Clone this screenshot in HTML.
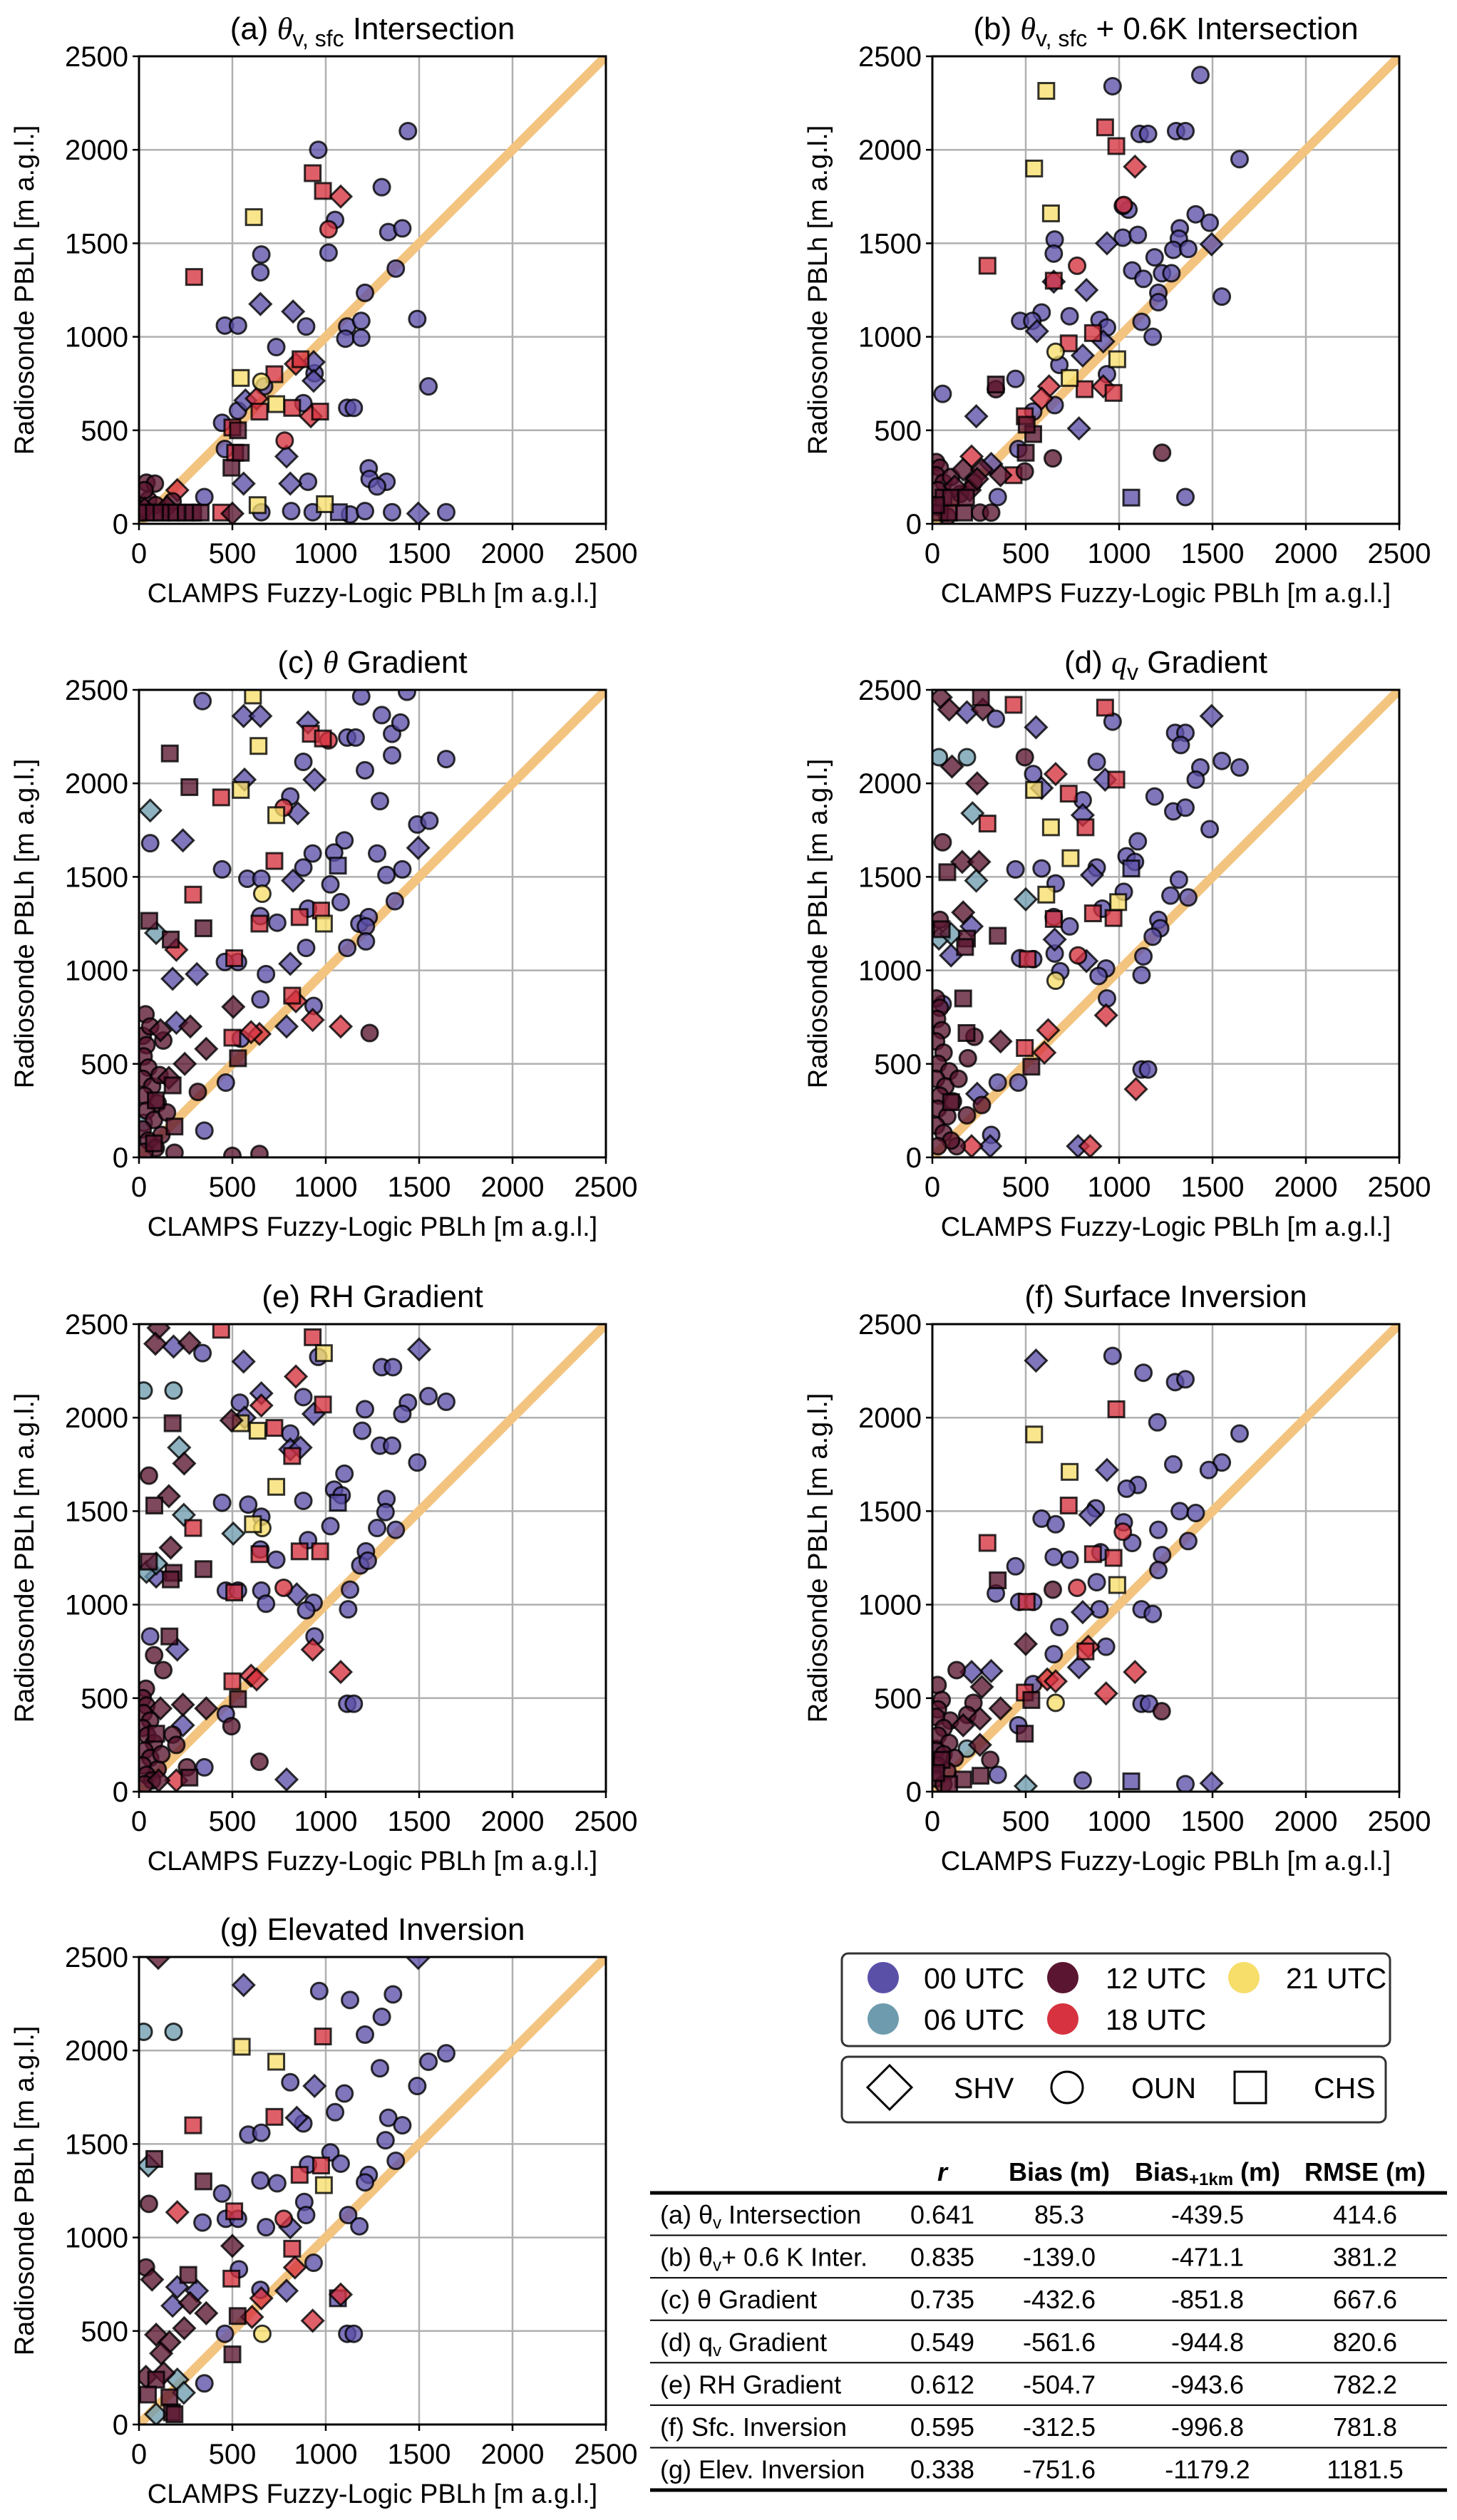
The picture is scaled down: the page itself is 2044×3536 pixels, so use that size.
<!DOCTYPE html>
<html><head><meta charset="utf-8">
<style>
html,body{margin:0;padding:0;background:#fff;}
svg{display:block;font-family:"Liberation Sans","DejaVu Sans",sans-serif;}
.tick{font-size:40px;fill:#000;}
.ttl{font-size:44px;fill:#000;}
.alab{font-size:38px;fill:#000;}
.tb{font-family:"Liberation Sans Narrow","Liberation Sans",sans-serif;font-size:36px;fill:#000;}
.lg{font-family:"Liberation Sans Narrow","Liberation Sans",sans-serif;font-size:41px;fill:#000;}
</style></head>
<body>
<svg id="fig" width="2044" height="3536" viewBox="0 0 2044 3536" xmlns="http://www.w3.org/2000/svg">
<g id="panels"></g>
<g>
<rect x="1181" y="2741" width="769" height="130" rx="9" fill="#fff" stroke="#333" stroke-width="3"/>
<circle cx="1239" cy="2775" r="22" fill="#5b50a8"/><text class="lg" x="1296" y="2790">00 UTC</text>
<circle cx="1491" cy="2775" r="22" fill="#5a1530"/><text class="lg" x="1551" y="2790">12 UTC</text>
<circle cx="1745" cy="2775" r="22" fill="#f7de6a"/><text class="lg" x="1804" y="2790">21 UTC</text>
<circle cx="1239" cy="2833" r="22" fill="#6e9cae"/><text class="lg" x="1296" y="2848">06 UTC</text>
<circle cx="1491" cy="2833" r="22" fill="#d6323f"/><text class="lg" x="1551" y="2848">18 UTC</text>
</g>
<g>
<rect x="1181" y="2886" width="763" height="92" rx="9" fill="#fff" stroke="#333" stroke-width="3"/>
<polygon points="1248,2898 1279,2929 1248,2960 1217,2929" fill="none" stroke="#000" stroke-width="3"/>
<text class="lg" x="1338" y="2944">SHV</text>
<circle cx="1497" cy="2929" r="22" fill="none" stroke="#000" stroke-width="3"/>
<text class="lg" x="1587" y="2944">OUN</text>
<rect x="1732" y="2907" width="44" height="44" fill="none" stroke="#000" stroke-width="3"/>
<text class="lg" x="1843" y="2944">CHS</text>
</g>
<g class="tb">
<text x="1322" y="3060" text-anchor="middle" font-weight="bold" font-style="italic">r</text>
<text x="1486" y="3060" text-anchor="middle" font-weight="bold">Bias (m)</text>
<text x="1694" y="3060" text-anchor="middle" font-weight="bold">Bias<tspan font-size="24" dy="6">+1km</tspan><tspan dy="-6"> (m)</tspan></text>
<text x="1915" y="3060" text-anchor="middle" font-weight="bold">RMSE (m)</text>
<line x1="912" y1="3077" x2="2030" y2="3077" stroke="#000" stroke-width="5"/>
<line x1="912" y1="3494" x2="2030" y2="3494" stroke="#000" stroke-width="5"/>
<g id="tblrows"></g>
</g>
</svg>
<script>
const timeLabels=['00 UTC','06 UTC','12 UTC','18 UTC','21 UTC'];
const timeColors=['#5b50a8','#6e9cae','#5a1530','#d6323f','#f7de6a'];
const axisTicks=[0,500,1000,1500,2000,2500];

const a_0o=[[1440,2100],[960,2000],[1300,1800],[1050,1625],[1335,1560],[1410,1580],[655,1440],[1015,1450],[650,1345],[1375,1365],[1210,1235],[460,1060],[530,1060],[895,1055],[1115,1055],[1190,1085],[1490,1095],[1105,990],[1190,995],[735,945],[670,735],[1550,735],[880,645],[530,605],[1115,620],[1150,620],[445,540],[460,400],[1230,297],[1235,240],[1325,225],[905,225],[1275,200],[815,68],[930,62],[655,62],[1130,50],[1210,68],[1355,62],[1645,62],[350,143],[940,805]];
const a_0d=[[650,1175],[825,1135],[570,660],[935,865],[935,765],[790,360],[560,215],[810,215],[1495,55]];
const a_0s=[[1070,62]];
const a_3s=[[930,1875],[985,1780],[295,1320],[725,800],[865,880],[820,620],[970,600],[645,600],[500,515],[515,380],[440,60]];
const a_3d=[[1080,1750],[840,855],[920,575],[205,180],[630,670]];
const a_3o=[[1015,1575],[780,445]];
const a_4s=[[615,1640],[545,780],[735,640],[635,100],[995,105]];
const a_4o=[[655,760]];
const a_2s=[[530,500],[495,300],[545,380],[40,60],[80,60],[120,60],[170,60],[200,60],[250,60],[290,60],[330,60]];
const a_2o=[[40,220],[85,215],[180,120],[50,128],[30,180],[90,100],[20,60]];
const a_2d=[[500,55],[30,80],[150,90]];

const b_0o=[[1435,2400],[965,2340],[1110,2085],[1155,2085],[1305,2100],[1355,2100],[1645,1950],[1050,1680],[1020,1700],[1410,1655],[1485,1610],[1325,1580],[1320,1525],[1020,1530],[1100,1545],[655,1520],[650,1445],[1290,1465],[1370,1470],[1190,1425],[1070,1355],[1130,1310],[1230,1340],[1280,1340],[1210,1235],[1210,1185],[1550,1215],[585,1130],[470,1085],[535,1085],[735,1110],[895,1090],[935,1050],[1120,1080],[1180,1000],[680,850],[445,775],[55,695],[935,800],[655,635],[540,600],[460,400],[1355,143],[350,143]];
const b_0d=[[935,1500],[1495,1495],[825,1250],[650,1295],[560,1030],[805,900],[915,975],[235,575],[785,510],[315,320]];
const b_0s=[[1065,140]];
const b_3s=[[925,2120],[985,2020],[295,1380],[650,1300],[860,1020],[730,965],[815,720],[970,700],[495,575],[435,260]];
const b_3d=[[1085,1910],[625,735],[585,670],[210,360],[915,735]];
const b_3o=[[775,1380],[1025,1705]];
const b_4s=[[610,2315],[545,1900],[635,1660],[990,880],[735,780]];
const b_4o=[[660,920]];
const b_2s=[[340,745],[540,480],[500,380],[505,530],[40,60],[90,60],[170,60],[60,140],[100,140],[180,140],[20,100]];
const b_2o=[[645,350],[1230,380],[340,720],[495,280],[255,60],[315,60],[20,330],[40,300],[20,260],[60,220],[30,180],[100,250],[220,220],[150,160],[30,90],[80,40]];
const b_2d=[[365,260],[165,290],[265,290],[200,180],[120,200],[240,240]];

const c_0o=[[340,2440],[1190,2465],[1435,2490],[1300,2365],[1355,2265],[1400,2325],[1115,2245],[1160,2245],[1355,2150],[1645,2130],[880,2115],[1210,2070],[810,1930],[1290,1905],[1490,1780],[1555,1800],[1100,1695],[60,1680],[1045,1630],[930,1625],[1275,1625],[880,1550],[1325,1510],[445,1540],[1410,1540],[580,1490],[655,1490],[1025,1460],[1370,1370],[1080,1365],[905,1330],[650,1290],[740,1255],[1180,1250],[1230,1285],[1215,1235],[1215,1155],[895,1120],[1115,1120],[530,1045],[460,1045],[680,980],[650,845],[935,810],[465,400],[350,143],[545,635]];
const c_0d=[[560,2360],[650,2360],[905,2325],[940,2020],[565,2020],[850,1840],[235,1695],[825,1480],[180,955],[310,980],[810,1035],[790,700],[1495,1655],[200,720]];
const c_0s=[[1065,1560]];
const c_1d=[[60,1855],[92,1200]];
const c_1o=[[25,185]];
const c_3s=[[440,1925],[920,2265],[985,2240],[725,1585],[290,1405],[860,1285],[975,1320],[645,1250],[510,1065],[820,865],[500,640]];
const c_3d=[[200,1110],[840,835],[930,735],[1080,700],[645,660],[600,670]];
const c_3o=[[775,1870],[1015,2230]];
const c_4s=[[610,2470],[640,2200],[545,1965],[735,1830],[990,1250]];
const c_4o=[[660,1410]];
const c_2s=[[165,2160],[270,1980],[55,1265],[345,1225],[170,1165],[530,530],[180,385],[90,305],[190,165],[80,75]];
const c_2d=[[505,805],[275,700],[115,680],[360,580],[245,500],[160,425]];
const c_2o=[[35,765],[1235,665],[645,18],[500,8],[190,25],[315,350],[130,625],[20,650],[40,600],[25,540],[50,480],[20,420],[70,380],[30,330],[100,290],[40,250],[80,200],[20,150],[120,120],[50,90],[90,50],[30,30],[150,240],[60,700],[110,440]];

const d_0o=[[340,2345],[965,2330],[1300,2270],[1355,2270],[1330,2205],[880,2115],[1435,2085],[1410,2020],[1550,2120],[1645,2085],[1190,1930],[805,1910],[1290,1850],[1355,1870],[1485,1755],[1100,1690],[1040,1610],[1085,1580],[445,1540],[585,1545],[880,1550],[660,1465],[1320,1485],[1275,1400],[1370,1390],[1025,1420],[910,1330],[650,1285],[735,1235],[1210,1270],[1220,1225],[1180,1180],[1130,1075],[1120,975],[655,1090],[685,995],[930,1010],[890,970],[935,850],[470,1065],[540,1060],[1120,470],[1155,470],[460,400],[350,400],[315,120],[540,2050],[55,820]];
const d_0d=[[1495,2360],[555,2300],[185,2380],[925,2020],[585,1975],[805,1830],[855,1510],[655,1165],[825,1050],[100,1080],[210,1235],[240,340],[310,60],[780,60]];
const d_0s=[[1065,1545]];
const d_1o=[[35,2140],[185,2140]];
const d_1d=[[215,1840],[235,1480],[500,1380],[35,1170],[100,1195]];
const d_3s=[[435,2420],[925,2405],[295,1785],[730,1945],[985,2020],[820,1765],[650,1275],[860,1305],[970,1280],[495,585],[510,1060]];
const d_3d=[[660,2050],[620,680],[600,560],[1090,365],[930,760],[210,60],[845,60]];
const d_3o=[[780,1080]];
const d_4s=[[545,1965],[635,1765],[740,1600],[610,1405],[995,1365]];
const d_4o=[[660,945]];
const d_2d=[[45,2460],[90,2395],[270,2395],[105,2090],[240,2000],[160,1580],[250,1580],[165,1310],[365,620]];
const d_2s=[[260,2460],[80,1525],[50,1220],[185,1170],[175,1125],[350,1185],[165,850],[183,665],[530,485],[100,295]];
const d_2o=[[495,2140],[55,1685],[40,1270],[190,530],[225,645],[185,225],[265,280],[130,60],[20,850],[40,800],[25,740],[50,680],[20,620],[60,560],[30,500],[90,460],[20,420],[70,380],[40,330],[110,300],[30,260],[80,220],[20,170],[60,130],[100,90],[30,60],[140,420]];

const e_0o=[[340,2345],[960,2325],[1300,2270],[1360,2270],[880,2110],[540,2080],[1440,2080],[1410,2020],[1210,2045],[1550,2115],[1645,2085],[1195,1930],[810,1915],[1290,1850],[1355,1850],[1490,1760],[1100,1700],[1045,1615],[1085,1585],[445,1545],[585,1535],[880,1555],[655,1470],[1325,1565],[1320,1495],[1275,1410],[1375,1400],[1025,1420],[905,1345],[650,1295],[735,1240],[1215,1285],[1185,1210],[1225,1235],[1130,1080],[1120,975],[655,1075],[680,1005],[935,1010],[895,970],[940,830],[465,1075],[530,1075],[1115,470],[1150,470],[465,415],[60,830],[350,130]];
const e_0d=[[1500,2365],[560,2300],[185,2380],[655,2130],[935,2020],[565,2000],[810,1830],[865,1840],[845,1055],[92,1150],[205,760],[235,355],[790,65]];
const e_0s=[[1065,1545]];
const e_1o=[[25,2145],[185,2145]];
const e_1d=[[215,1840],[240,1480],[505,1380],[40,1175],[92,1220]];
const e_3s=[[440,2470],[930,2430],[290,1410],[725,1945],[985,2070],[820,1795],[645,1270],[860,1285],[970,1285],[500,590],[510,1065]];
const e_3d=[[840,2220],[655,2065],[600,620],[630,600],[1080,640],[930,760],[200,60]];
const e_3o=[[775,1090]];
const e_4s=[[545,1970],[635,1930],[735,1630],[610,1430],[990,2345]];
const e_4o=[[660,1410]];
const e_2d=[[105,2480],[88,2395],[270,2400],[160,1580],[242,1755],[495,1985],[170,1305],[235,465],[360,445],[115,445],[105,60]];
const e_2s=[[180,1970],[82,1530],[53,1230],[185,1170],[170,1135],[345,1190],[163,830],[530,495],[92,310],[270,75]];
const e_2o=[[53,1690],[81,730],[130,650],[37,550],[180,305],[495,350],[645,160],[257,130],[20,500],[40,460],[25,420],[60,380],[20,340],[45,300],[80,260],[30,220],[60,180],[20,140],[100,120],[40,90],[70,60],[30,40],[120,200],[200,250]];

const f_0o=[[965,2330],[1130,2240],[1300,2190],[1355,2205],[1205,1975],[1645,1915],[1290,1750],[1550,1760],[1480,1720],[1100,1640],[1040,1620],[875,1515],[585,1460],[660,1430],[1025,1440],[1325,1500],[1410,1490],[1210,1400],[1070,1330],[1370,1340],[650,1255],[735,1240],[1230,1265],[1210,1185],[445,1205],[880,1120],[340,1060],[465,1015],[540,1015],[895,975],[1120,975],[1180,950],[680,880],[650,735],[930,775],[540,575],[460,355],[1120,470],[1160,470],[805,60],[1355,40],[350,90],[900,1280]];
const f_0d=[[555,2305],[935,1720],[845,1480],[805,960],[785,665],[315,645],[210,640],[1495,45]];
const f_0s=[[1065,55]];
const f_1o=[[20,230],[185,230]];
const f_1d=[[500,30]];
const f_3s=[[985,2045],[730,1530],[295,1330],[860,1270],[970,1250],[505,1015],[820,750],[495,530]];
const f_3d=[[1085,640],[930,525],[615,600],[660,590],[835,775]];
const f_3o=[[775,1090],[1020,1390]];
const f_4s=[[545,1910],[735,1710],[990,1105]];
const f_4o=[[660,475]];
const f_2s=[[350,1130],[530,490],[495,310],[50,170],[165,65],[258,85],[90,40],[20,100]];
const f_2o=[[645,1080],[130,650],[28,570],[1228,430],[220,475],[187,410],[310,170],[50,490],[95,380],[30,440],[20,400],[60,340],[30,300],[90,260],[20,220],[60,200],[120,180],[30,140],[80,110],[20,70],[60,40]];
const f_2d=[[500,790],[365,445],[265,560],[165,355],[255,250],[255,390]];

const g_0o=[[965,2318],[1130,2270],[1360,2300],[1300,2180],[1210,2085],[1290,1905],[1550,1940],[1645,1985],[1490,1810],[810,1830],[1100,1770],[1050,1670],[880,1610],[1335,1640],[1410,1600],[1320,1520],[585,1550],[655,1560],[1025,1455],[1080,1395],[905,1390],[1375,1410],[1230,1335],[1210,1295],[650,1305],[740,1290],[445,1235],[885,1190],[895,1120],[1120,1120],[1180,1060],[340,1080],[465,1100],[530,1100],[680,1055],[935,865],[535,830],[650,720],[460,485],[1115,485],[1150,485],[350,220]];
const g_0d=[[1495,2495],[560,2350],[940,1810],[845,1640],[810,1055],[790,715],[205,735],[310,715],[180,635]];
const g_0s=[[1065,675]];
const g_1o=[[25,2100],[185,2100]];
const g_1d=[[50,1385],[205,240],[240,170],[92,55]];
const g_3s=[[985,2075],[725,1645],[290,1600],[860,1335],[975,1385],[510,1140],[820,940],[495,780]];
const g_3d=[[205,1135],[835,840],[930,555],[605,575],[655,675],[1080,695]];
const g_3o=[[775,1100]];
const g_4s=[[550,2020],[735,1940],[990,1280]];
const g_4o=[[660,485]];
const g_2o=[[53,1180],[37,840]];
const g_2d=[[70,775],[92,480],[163,440],[119,380],[273,650],[242,515],[360,595],[37,255],[132,275],[103,2495],[500,955]];
const g_2s=[[82,1420],[345,1300],[264,800],[528,580],[500,375],[92,240],[48,160],[163,145],[176,65],[190,55]];

const tableRows=['(a) θ|v| Intersection','(b) θ|v|+ 0.6 K Inter.','(c) θ Gradient','(d) q|v| Gradient','(e) RH Gradient','(f) Sfc. Inversion','(g) Elev. Inversion'];
const tableR=['0.641','0.835','0.735','0.549','0.612','0.595','0.338'];
const tableBias=['85.3','-139.0','-432.6','-561.6','-504.7','-312.5','-751.6'];
const tableBias1km=['-439.5','-471.1','-851.8','-944.8','-943.6','-996.8','-1179.2'];
const tableRmse=['414.6','381.2','667.6','820.6','782.2','781.8','1181.5'];

const NS='http://www.w3.org/2000/svg';
function mk(tag,attrs,parent){const e=document.createElementNS(NS,tag);for(const k in attrs)e.setAttribute(k,attrs[k]);if(parent)parent.appendChild(e);return e;}
const W=655,H=656;
const panels=[
 {id:'a',x0:195,y0:79,title:['(a) ','θ','v, sfc',' Intersection'],groups:{'0o':a_0o,'0d':a_0d,'0s':a_0s,'2o':a_2o,'2d':a_2d,'2s':a_2s,'3o':a_3o,'3d':a_3d,'3s':a_3s,'4o':a_4o,'4s':a_4s}},
 {id:'b',x0:1308,y0:79,title:['(b) ','θ','v, sfc',' + 0.6K Intersection'],groups:{'0o':b_0o,'0d':b_0d,'0s':b_0s,'2o':b_2o,'2d':b_2d,'2s':b_2s,'3o':b_3o,'3d':b_3d,'3s':b_3s,'4o':b_4o,'4s':b_4s}},
 {id:'c',x0:195,y0:968,title:['(c) ','θ','',' Gradient'],groups:{'0o':c_0o,'0d':c_0d,'0s':c_0s,'1o':c_1o,'1d':c_1d,'2o':c_2o,'2d':c_2d,'2s':c_2s,'3o':c_3o,'3d':c_3d,'3s':c_3s,'4o':c_4o,'4s':c_4s}},
 {id:'d',x0:1308,y0:968,title:['(d) ','q','v',' Gradient'],groups:{'0o':d_0o,'0d':d_0d,'0s':d_0s,'1o':d_1o,'1d':d_1d,'2o':d_2o,'2d':d_2d,'2s':d_2s,'3o':d_3o,'3d':d_3d,'3s':d_3s,'4o':d_4o,'4s':d_4s}},
 {id:'e',x0:195,y0:1858,title:['(e) RH Gradient','','',''],groups:{'0o':e_0o,'0d':e_0d,'0s':e_0s,'1o':e_1o,'1d':e_1d,'2o':e_2o,'2d':e_2d,'2s':e_2s,'3o':e_3o,'3d':e_3d,'3s':e_3s,'4o':e_4o,'4s':e_4s}},
 {id:'f',x0:1308,y0:1858,title:['(f) Surface Inversion','','',''],groups:{'0o':f_0o,'0d':f_0d,'0s':f_0s,'1o':f_1o,'1d':f_1d,'2o':f_2o,'2d':f_2d,'2s':f_2s,'3o':f_3o,'3d':f_3d,'3s':f_3s,'4o':f_4o,'4s':f_4s}},
 {id:'g',x0:195,y0:2746,title:['(g) Elevated Inversion','','',''],groups:{'0o':g_0o,'0d':g_0d,'0s':g_0s,'1o':g_1o,'1d':g_1d,'2o':g_2o,'2d':g_2d,'2s':g_2s,'3o':g_3o,'3d':g_3d,'3s':g_3s,'4o':g_4o,'4s':g_4s}}
];
const drawOrder=['0o','0d','0s','1o','1d','3o','3d','3s','4o','4s','2o','2d','2s'];
const root=document.getElementById('panels');
panels.forEach(p=>{
 const sx=v=>p.x0+v/2500*W, sy=v=>p.y0+H-v/2500*H;
 const g=mk('g',{},root);
 
 
 const cid='clip-'+p.id;
 const cp=mk('clipPath',{id:cid},g);mk('rect',{x:p.x0,y:p.y0,width:W,height:H},cp);
 axisTicks.forEach(t=>{
  const gx=mk('line',{x1:sx(t),x2:sx(t),y1:p.y0,y2:p.y0+H,stroke:'#b0b0b0','stroke-width':2.5},g);
  
  
  const gy=mk('line',{x1:p.x0,x2:p.x0+W,y1:sy(t),y2:sy(t),stroke:'#b0b0b0','stroke-width':2.5},g);
  
  
 });
 const ol=mk('line',{x1:sx(0),y1:sy(0),x2:sx(2500),y2:sy(2500),stroke:'#f3c47f','stroke-width':13,'clip-path':'url(#'+cid+')'},g);
 
 
 const pg=mk('g',{'clip-path':'url(#'+cid+')'},g);
 drawOrder.forEach(k=>{
  const arr=p.groups[k]; if(!arr) return;
  const t=+k[0], s=k[1], col=timeColors[t];
  arr.forEach(pt=>{
   const cx=sx(pt[0]), cy=sy(pt[1]); let m;
   const st={fill:col,'fill-opacity':0.78,stroke:'#000','stroke-opacity':0.8,'stroke-width':3};
   if(s==='o'){m=mk('circle',Object.assign({cx:cx,cy:cy,r:11.5},st),pg);}
   else if(s==='s'){m=mk('rect',Object.assign({x:cx-11,y:cy-11,width:22,height:22},st),pg);}
   else {m=mk('polygon',Object.assign({points:`${cx},${cy-15} ${cx+15},${cy} ${cx},${cy+15} ${cx-15},${cy}`},st),pg);}
   
   
  });
 });
 const fr=mk('rect',{x:p.x0,y:p.y0,width:W,height:H,fill:'none',stroke:'#000','stroke-width':3},g);
 
 
 axisTicks.forEach(t=>{
  mk('line',{x1:sx(t),x2:sx(t),y1:p.y0+H,y2:p.y0+H+9,stroke:'#000','stroke-width':2.5},g);
  mk('line',{x1:p.x0-9,x2:p.x0,y1:sy(t),y2:sy(t),stroke:'#000','stroke-width':2.5},g);
  const xt=mk('text',{x:sx(t),y:p.y0+H+55,'text-anchor':'middle',class:'tick'},g);xt.textContent=t;
  
  
  const yt=mk('text',{x:p.x0-15,y:sy(t)+14,'text-anchor':'end',class:'tick'},g);yt.textContent=t;
  
  
 });
 const xl=mk('text',{x:p.x0+W/2,y:p.y0+H+110,'text-anchor':'middle',class:'alab'},g);
 xl.textContent='CLAMPS Fuzzy-Logic PBLh [m a.g.l.]';
 
 
 const yl=mk('text',{x:0,y:0,'text-anchor':'middle',class:'alab',transform:`translate(${p.x0-148},${p.y0+H/2}) rotate(-90)`},g);
 yl.textContent='Radiosonde PBLh [m a.g.l.]';
 
 
 const tt=mk('text',{x:p.x0+W/2,y:p.y0-24,'text-anchor':'middle',class:'ttl'},g);
 
 
 const s0=mk('tspan',{},tt);s0.textContent=p.title[0];
 if(p.title[1]){const s1=mk('tspan',{'font-style':'italic','font-family':'Liberation Serif, serif'},tt);s1.textContent=p.title[1];}
 if(p.title[2]){const s2=mk('tspan',{'font-size':32,dy:10},tt);s2.textContent=p.title[2];}
 if(p.title[3]){const s3=mk('tspan',{dy:p.title[2]?-10:0},tt);s3.textContent=p.title[3];}
});
const tr=document.getElementById('tblrows');
tableRows.forEach((lab,i)=>{
 const yc=3107+i*59.6, yb=yc+13;
 if(i<6){mk('line',{x1:912,x2:2030,y1:yc+29.5,y2:yc+29.5,stroke:'#000','stroke-width':2},tr);}
 const parts=lab.split('|');
 const t=mk('text',{x:926,y:yb},tr);
 
 
 const a=mk('tspan',{},t);a.textContent=parts[0];
 if(parts.length>1){const b=mk('tspan',{'font-size':24,dy:7},t);b.textContent=parts[1];const c=mk('tspan',{dy:-7},t);c.textContent=parts[2];}
 [[1322,tableR],[1486,tableBias],[1694,tableBias1km],[1915,tableRmse]].forEach(([x,arr])=>{
  const c=mk('text',{x:x,y:yb,'text-anchor':'middle'},tr);c.textContent=arr[i];
  
  
 });
});
</script>
</body></html>
